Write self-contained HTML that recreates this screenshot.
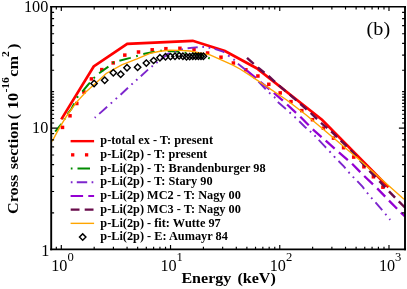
<!DOCTYPE html>
<html><head><meta charset="utf-8"><style>
html,body{margin:0;padding:0;background:#fff;}
svg{display:block;will-change:transform;font-family:"Liberation Serif",serif;}
</style></head><body>
<svg width="407" height="289" viewBox="0 0 407 289">
<defs><filter id="b" x="0" y="0" width="407" height="289" filterUnits="userSpaceOnUse"><feGaussianBlur stdDeviation="0.35"/></filter></defs>
<rect width="407" height="289" fill="#fff"/>
<g filter="url(#b)">
<rect width="407" height="289" fill="#fff"/>
<clipPath id="c"><rect x="51.2" y="6.8" width="353.8" height="242.5"/></clipPath>
<g clip-path="url(#c)" fill="none" stroke-linejoin="miter">
<path d="M61.3 119.4 L93.7 66.5 L127.2 43.9 L192.8 40.8 L225.0 51.0 L256.6 68.2 L322.0 119.8 L388.5 187.2" stroke="#ff0000" stroke-width="2.7"/>
<rect x="60.75" y="125.65" width="3.5" height="3.5" fill="#ff0000"/>
<rect x="68.25" y="114.05" width="3.5" height="3.5" fill="#ff0000"/>
<rect x="75.05" y="101.75" width="3.5" height="3.5" fill="#ff0000"/>
<rect x="82.15" y="90.25" width="3.5" height="3.5" fill="#ff0000"/>
<rect x="89.65" y="77.15" width="3.5" height="3.5" fill="#ff0000"/>
<rect x="100.05" y="67.85" width="3.5" height="3.5" fill="#ff0000"/>
<rect x="111.45" y="61.15" width="3.5" height="3.5" fill="#ff0000"/>
<rect x="123.05" y="53.35" width="3.5" height="3.5" fill="#ff0000"/>
<rect x="136.75" y="50.25" width="3.5" height="3.5" fill="#ff0000"/>
<rect x="150.45" y="48.05" width="3.5" height="3.5" fill="#ff0000"/>
<rect x="164.15" y="46.95" width="3.5" height="3.5" fill="#ff0000"/>
<rect x="178.15" y="46.55" width="3.5" height="3.5" fill="#ff0000"/>
<rect x="192.25" y="47.75" width="3.5" height="3.5" fill="#ff0000"/>
<rect x="205.85" y="51.25" width="3.5" height="3.5" fill="#ff0000"/>
<rect x="219.25" y="55.45" width="3.5" height="3.5" fill="#ff0000"/>
<rect x="231.65" y="61.25" width="3.5" height="3.5" fill="#ff0000"/>
<rect x="244.15" y="68.05" width="3.5" height="3.5" fill="#ff0000"/>
<rect x="256.15" y="74.25" width="3.5" height="3.5" fill="#ff0000"/>
<rect x="267.05" y="82.55" width="3.5" height="3.5" fill="#ff0000"/>
<rect x="278.45" y="91.15" width="3.5" height="3.5" fill="#ff0000"/>
<rect x="289.25" y="99.85" width="3.5" height="3.5" fill="#ff0000"/>
<rect x="300.05" y="108.85" width="3.5" height="3.5" fill="#ff0000"/>
<rect x="310.75" y="117.95" width="3.5" height="3.5" fill="#ff0000"/>
<rect x="321.65" y="126.45" width="3.5" height="3.5" fill="#ff0000"/>
<rect x="331.75" y="136.35" width="3.5" height="3.5" fill="#ff0000"/>
<rect x="341.85" y="145.95" width="3.5" height="3.5" fill="#ff0000"/>
<rect x="351.95" y="155.35" width="3.5" height="3.5" fill="#ff0000"/>
<rect x="362.15" y="165.05" width="3.5" height="3.5" fill="#ff0000"/>
<rect x="371.65" y="175.05" width="3.5" height="3.5" fill="#ff0000"/>
<rect x="381.15" y="185.45" width="3.5" height="3.5" fill="#ff0000"/>
<path d="M51.4 136.4 L55.2 131.7" stroke="#008b00" stroke-width="2" stroke-dasharray="11.50 5.50 1.70 5.60" stroke-dashoffset="18.26"/>
<path d="M55.2 131.7 L61.3 124.0 L66.6 115.8 L67.5 114.2" stroke="#008b00" stroke-width="2" stroke-dasharray="10.14 4.85 1.50 4.94" stroke-dashoffset="0.00"/>
<path d="M67.5 114.2 L71.5 108.8 L78.1 95.9 L82.3 91.7" stroke="#008b00" stroke-width="2" stroke-dasharray="12.85 6.15 1.90 6.26" stroke-dashoffset="0.00"/>
<path d="M82.3 91.7 L87.0 86.0 L94.5 77.4 L99.1 73.2" stroke="#008b00" stroke-width="2" stroke-dasharray="11.84 5.66 1.75 5.77" stroke-dashoffset="0.00"/>
<path d="M99.1 73.2 L108.5 66.5 L113.2 62.6 L119.4 60.7" stroke="#008b00" stroke-width="2" stroke-dasharray="11.42 5.46 1.69 5.56" stroke-dashoffset="0.00"/>
<path d="M119.4 60.7 L130.3 57.9 L137.6 55.8 L143.3 54.1" stroke="#008b00" stroke-width="2" stroke-dasharray="11.74 5.61 1.73 5.71" stroke-dashoffset="0.00"/>
<path d="M143.3 54.1 L154.7 51.8 L160.3 50.8 L167.7 50.9" stroke="#008b00" stroke-width="2" stroke-dasharray="11.70 5.59 1.73 5.70" stroke-dashoffset="0.00"/>
<path d="M167.7 50.9 L176.5 51.4 L184.7 52.6 L195.7 53.8 L201.9 55.4 L208.0 57.7 L214.1 60.4" stroke="#008b00" stroke-width="2" stroke-dasharray="11.50 5.50 1.70 5.60" stroke-dashoffset="0.00"/>
<path d="M94.7 117.8 L99.2 113.9" stroke="#7d26cd" stroke-width="1.9" stroke-dasharray="10.40 4.70 1.80 4.70 1.80 4.60" stroke-dashoffset="22.05"/>
<path d="M99.2 113.9 L107.5 106.5 L115.4 99.3 L120.6 94.8" stroke="#7d26cd" stroke-width="1.9" stroke-dasharray="10.65 4.82 1.84 4.82 1.84 4.71" stroke-dashoffset="0.00"/>
<path d="M120.6 94.8 L128.4 87.4 L136.3 80.2 L140.8 76.2" stroke="#7d26cd" stroke-width="1.9" stroke-dasharray="10.20 4.61 1.77 4.61 1.77 4.51" stroke-dashoffset="0.00"/>
<path d="M140.8 76.2 L148.7 69.0 L152.2 66.3 L161.0 59.3" stroke="#7d26cd" stroke-width="1.9" stroke-dasharray="9.79 4.42 1.69 4.42 1.69 4.33" stroke-dashoffset="0.00"/>
<path d="M161.0 59.3 L164.7 56.4 L167.7 53.9 L176.8 50.6 L187.6 48.3" stroke="#7d26cd" stroke-width="1.9" stroke-dasharray="10.89 4.92 1.89 4.92 1.89 4.82" stroke-dashoffset="0.00"/>
<path d="M187.6 48.3 L195.7 47.4 L201.9 46.8 L208.5 47.6 L214.7 48.9" stroke="#7d26cd" stroke-width="1.9" stroke-dasharray="10.16 4.59 1.76 4.59 1.76 4.50" stroke-dashoffset="0.00"/>
<path d="M214.7 48.9 L223.0 51.6 L228.2 55.4 L233.8 59.5 L237.9 63.7" stroke="#7d26cd" stroke-width="1.9" stroke-dasharray="10.39 4.70 1.80 4.70 1.80 4.60" stroke-dashoffset="0.00"/>
<path d="M237.9 63.7 L244.9 69.2 L258.5 81.7" stroke="#7d26cd" stroke-width="1.9" stroke-dasharray="10.17 4.59 1.76 4.59 1.76 4.50" stroke-dashoffset="0.00"/>
<path d="M258.5 81.7 L268.8 92.4 L274.3 97.0 L277.8 102.0" stroke="#7d26cd" stroke-width="1.9" stroke-dasharray="10.45 4.72 1.81 4.72 1.81 4.62" stroke-dashoffset="0.00"/>
<path d="M277.8 102.0 L284.8 108.0 L289.5 112.3 L294.6 116.9 L299.2 121.3" stroke="#7d26cd" stroke-width="1.9" stroke-dasharray="10.71 4.84 1.85 4.84 1.85 4.74" stroke-dashoffset="0.00"/>
<path d="M299.2 121.3 L304.7 126.7 L309.7 130.9 L314.8 135.7 L318.7 139.9" stroke="#7d26cd" stroke-width="1.9" stroke-dasharray="10.02 4.53 1.73 4.53 1.73 4.43" stroke-dashoffset="0.00"/>
<path d="M318.7 139.9 L324.6 146.2 L329.3 151.1 L334.0 156.3 L338.5 161.0" stroke="#7d26cd" stroke-width="1.9" stroke-dasharray="10.75 4.86 1.86 4.86 1.86 4.75" stroke-dashoffset="0.00"/>
<path d="M338.5 161.0 L343.8 166.4 L348.1 171.6 L353.0 176.8 L357.3 181.1" stroke="#7d26cd" stroke-width="1.9" stroke-dasharray="10.23 4.62 1.77 4.62 1.77 4.52" stroke-dashoffset="0.00"/>
<path d="M357.3 181.1 L362.5 186.7 L366.8 192.4 L371.1 197.5 L375.5 202.3" stroke="#7d26cd" stroke-width="1.9" stroke-dasharray="10.39 4.69 1.80 4.69 1.80 4.59" stroke-dashoffset="0.00"/>
<path d="M375.5 202.3 L380.7 208.4 L385.0 213.5 L389.2 218.6 L390.2 219.8" stroke="#7d26cd" stroke-width="1.9" stroke-dasharray="10.40 4.70 1.80 4.70 1.80 4.60" stroke-dashoffset="0.00"/>
<path d="M246.9 70.6 L260.3 81.8" stroke="#9400d3" stroke-width="2.3" stroke-dasharray="11.84 5.62" stroke-dashoffset="0.00"/>
<path d="M260.3 81.8 L273.9 92.8" stroke="#9400d3" stroke-width="2.3" stroke-dasharray="11.86 5.63" stroke-dashoffset="0.00"/>
<path d="M273.9 92.8 L287.1 104.5" stroke="#9400d3" stroke-width="2.3" stroke-dasharray="11.96 5.68" stroke-dashoffset="0.00"/>
<path d="M287.1 104.5 L300.3 116.8" stroke="#9400d3" stroke-width="2.3" stroke-dasharray="12.24 5.81" stroke-dashoffset="0.00"/>
<path d="M300.3 116.8 L312.8 129.3" stroke="#9400d3" stroke-width="2.3" stroke-dasharray="11.99 5.69" stroke-dashoffset="0.00"/>
<path d="M312.8 129.3 L325.7 140.7" stroke="#9400d3" stroke-width="2.3" stroke-dasharray="11.67 5.54" stroke-dashoffset="0.00"/>
<path d="M325.7 140.7 L338.9 152.4" stroke="#9400d3" stroke-width="2.3" stroke-dasharray="11.96 5.68" stroke-dashoffset="0.00"/>
<path d="M338.9 152.4 L352.1 163.8" stroke="#9400d3" stroke-width="2.3" stroke-dasharray="11.83 5.61" stroke-dashoffset="0.00"/>
<path d="M352.1 163.8 L364.2 176.0" stroke="#9400d3" stroke-width="2.3" stroke-dasharray="11.65 5.53" stroke-dashoffset="0.00"/>
<path d="M364.2 176.0 L377.2 188.4" stroke="#9400d3" stroke-width="2.3" stroke-dasharray="12.18 5.78" stroke-dashoffset="0.00"/>
<path d="M377.2 188.4 L389.0 200.6" stroke="#9400d3" stroke-width="2.3" stroke-dasharray="11.51 5.46" stroke-dashoffset="0.00"/>
<path d="M389.0 200.6 L400.9 212.7" stroke="#9400d3" stroke-width="2.3" stroke-dasharray="11.51 5.46" stroke-dashoffset="0.00"/>
<path d="M400.9 212.7 L405.0 216.5" stroke="#9400d3" stroke-width="2.3" stroke-dasharray="11.80 5.60" stroke-dashoffset="0.00"/>
<path d="M247.0 57.9 L257.9 67.5" stroke="#67074a" stroke-width="2.4" stroke-dasharray="8.99 5.54" stroke-dashoffset="0.00"/>
<path d="M257.9 67.5 L268.5 76.0" stroke="#67074a" stroke-width="2.4" stroke-dasharray="8.41 5.18" stroke-dashoffset="0.00"/>
<path d="M268.5 76.0 L278.9 85.4" stroke="#67074a" stroke-width="2.4" stroke-dasharray="8.67 5.35" stroke-dashoffset="0.00"/>
<path d="M278.9 85.4 L289.8 94.7" stroke="#67074a" stroke-width="2.4" stroke-dasharray="8.86 5.46" stroke-dashoffset="0.00"/>
<path d="M289.8 94.7 L300.3 103.8" stroke="#67074a" stroke-width="2.4" stroke-dasharray="8.60 5.30" stroke-dashoffset="0.00"/>
<path d="M300.3 103.8 L310.7 113.0" stroke="#67074a" stroke-width="2.4" stroke-dasharray="8.59 5.29" stroke-dashoffset="0.00"/>
<path d="M310.7 113.0 L321.0 122.8" stroke="#67074a" stroke-width="2.4" stroke-dasharray="8.80 5.42" stroke-dashoffset="0.00"/>
<path d="M321.0 122.8 L331.2 131.4" stroke="#67074a" stroke-width="2.4" stroke-dasharray="8.25 5.09" stroke-dashoffset="0.00"/>
<path d="M331.2 131.4 L340.8 140.7" stroke="#67074a" stroke-width="2.4" stroke-dasharray="8.27 5.10" stroke-dashoffset="0.00"/>
<path d="M340.8 140.7 L350.6 150.0" stroke="#67074a" stroke-width="2.4" stroke-dasharray="8.36 5.15" stroke-dashoffset="0.00"/>
<path d="M350.6 150.0 L360.0 160.4" stroke="#67074a" stroke-width="2.4" stroke-dasharray="8.67 5.35" stroke-dashoffset="0.00"/>
<path d="M360.0 160.4 L369.4 170.8" stroke="#67074a" stroke-width="2.4" stroke-dasharray="8.67 5.35" stroke-dashoffset="0.00"/>
<path d="M369.4 170.8 L379.4 181.1" stroke="#67074a" stroke-width="2.4" stroke-dasharray="8.88 5.47" stroke-dashoffset="0.00"/>
<path d="M379.4 181.1 L389.0 191.3" stroke="#67074a" stroke-width="2.4" stroke-dasharray="8.67 5.34" stroke-dashoffset="0.00"/>
<path d="M389.0 191.3 L398.8 201.4" stroke="#67074a" stroke-width="2.4" stroke-dasharray="8.71 5.37" stroke-dashoffset="0.00"/>
<path d="M398.8 201.4 L405.0 207.6" stroke="#67074a" stroke-width="2.4" stroke-dasharray="8.60 5.30" stroke-dashoffset="0.00"/>
<path d="M51.0 142.0 L52.8 140.0 L59.4 127.9 L67.0 115.5 L76.6 102.1 L86.1 91.7 L93.7 85.0 L106.2 73.5 L121.7 64.9 L137.0 58.9 L150.0 53.4 L159.9 51.2 L169.2 50.2 L180.0 50.4 L190.0 51.0 L210.0 54.9 L232.4 64.9 L240.0 69.0 L250.0 75.3 L286.7 100.0 L306.2 115.0 L336.0 140.0 L347.8 150.0 L360.0 160.2 L404.0 199.2" stroke="#ffa500" stroke-width="1.4"/>
<path d="M90.9 83.5L94.1 80.3L97.2 83.5L94.1 86.7Z" stroke="#000" stroke-width="1.45" fill="none"/>
<path d="M101.5 80.3L104.7 77.1L107.9 80.3L104.7 83.5Z" stroke="#000" stroke-width="1.45" fill="none"/>
<path d="M110.1 72.7L113.3 69.5L116.5 72.7L113.3 75.9Z" stroke="#000" stroke-width="1.45" fill="none"/>
<path d="M117.5 74.3L120.7 71.1L123.9 74.3L120.7 77.5Z" stroke="#000" stroke-width="1.45" fill="none"/>
<path d="M123.8 67.7L127.0 64.5L130.2 67.7L127.0 70.9Z" stroke="#000" stroke-width="1.45" fill="none"/>
<path d="M134.4 67.2L137.6 64.0L140.8 67.2L137.6 70.4Z" stroke="#000" stroke-width="1.45" fill="none"/>
<path d="M143.2 63.0L146.3 59.9L149.5 63.0L146.3 66.2Z" stroke="#000" stroke-width="1.45" fill="none"/>
<path d="M150.4 60.5L153.6 57.4L156.8 60.5L153.6 63.6Z" stroke="#000" stroke-width="1.45" fill="none"/>
<path d="M156.8 57.8L159.9 54.6L163.1 57.8L159.9 60.9Z" stroke="#000" stroke-width="1.45" fill="none"/>
<path d="M162.3 56.8L165.5 53.6L168.7 56.8L165.5 59.9Z" stroke="#000" stroke-width="1.45" fill="none"/>
<path d="M167.3 56.6L170.5 53.5L173.7 56.6L170.5 59.8Z" stroke="#000" stroke-width="1.45" fill="none"/>
<path d="M171.8 56.2L175.0 53.1L178.2 56.2L175.0 59.4Z" stroke="#000" stroke-width="1.45" fill="none"/>
<path d="M176.0 55.8L179.2 52.6L182.3 55.8L179.2 58.9Z" stroke="#000" stroke-width="1.45" fill="none"/>
<path d="M179.8 56.3L182.9 53.1L186.1 56.3L182.9 59.4Z" stroke="#000" stroke-width="1.45" fill="none"/>
<path d="M183.3 56.7L186.5 53.6L189.7 56.7L186.5 59.9Z" stroke="#000" stroke-width="1.45" fill="none"/>
<path d="M186.5 56.6L189.7 53.5L192.8 56.6L189.7 59.8Z" stroke="#000" stroke-width="1.45" fill="none"/>
<path d="M189.7 56.3L192.8 53.1L196.0 56.3L192.8 59.4Z" stroke="#000" stroke-width="1.45" fill="none"/>
<path d="M192.5 56.3L195.7 53.1L198.8 56.3L195.7 59.4Z" stroke="#000" stroke-width="1.45" fill="none"/>
<path d="M195.2 56.2L198.4 53.1L201.6 56.2L198.4 59.4Z" stroke="#000" stroke-width="1.45" fill="none"/>
<path d="M197.8 56.2L201.0 53.1L204.2 56.2L201.0 59.4Z" stroke="#000" stroke-width="1.45" fill="none"/>
<path d="M200.2 56.2L203.4 53.1L206.6 56.2L203.4 59.4Z" stroke="#000" stroke-width="1.45" fill="none"/>
</g>
<path d="M70.6 141.15H94.1" stroke="#ff0000" stroke-width="2.4"/>
<rect x="71.05" y="153.2" width="3.3" height="3.3" fill="#ff0000"/>
<rect x="84.94999999999999" y="153.2" width="3.3" height="3.3" fill="#ff0000"/>
<path d="M70.8 168.55h1.7M77.5 168.55H90" stroke="#008b00" stroke-width="2"/>
<path d="M70.8 182.25h1.7M76.8 182.25H87.2M91.6 182.25h1.7" stroke="#7d26cd" stroke-width="2"/>
<path d="M70.6 195.95H83.1M88.3 195.95H94.1" stroke="#9400d3" stroke-width="2.1"/>
<path d="M70.7 209.65H79.5M84.7 209.65H93.5" stroke="#67074a" stroke-width="2.1"/>
<path d="M70.6 223.35H94.1" stroke="#ffa500" stroke-width="1.4"/>
<path d="M79.5 237.1L82.7 233.9L85.9 237.1L82.7 240.2Z" stroke="#000" stroke-width="1.45" fill="none"/>
<text transform="translate(100.3 144.3) scale(1.034 1)" font-weight="bold" font-size="11.9">p-total ex - T: present</text>
<text transform="translate(100.3 158.0) scale(1.034 1)" font-weight="bold" font-size="11.9">p-Li(2p) - T: present</text>
<text transform="translate(100.3 171.8) scale(1.034 1)" font-weight="bold" font-size="11.9">p-Li(2p) - T: Brandenburger 98</text>
<text transform="translate(100.3 185.4) scale(1.034 1)" font-weight="bold" font-size="11.9">p-Li(2p) - T: Stary 90</text>
<text transform="translate(100.3 199.1) scale(1.034 1)" font-weight="bold" font-size="11.9">p-Li(2p) MC2 - T: Nagy 00</text>
<text transform="translate(100.3 212.8) scale(1.034 1)" font-weight="bold" font-size="11.9">p-Li(2p) MC3 - T: Nagy 00</text>
<text transform="translate(100.3 226.5) scale(1.034 1)" font-weight="bold" font-size="11.9">p-Li(2p) - fit: Wutte 97</text>
<text transform="translate(100.3 240.2) scale(1.034 1)" font-weight="bold" font-size="11.9">p-Li(2p) - E: Aumayr 84</text>
<path d="M56.30 249.3v-2.6M56.30 6.8v2.6M61.30 249.3v-4.3M61.30 6.8v4.3M94.18 249.3v-2.6M94.18 6.8v2.6M113.42 249.3v-2.6M113.42 6.8v2.6M127.06 249.3v-2.6M127.06 6.8v2.6M137.65 249.3v-2.6M137.65 6.8v2.6M146.30 249.3v-2.6M146.30 6.8v2.6M153.61 249.3v-2.6M153.61 6.8v2.6M159.94 249.3v-2.6M159.94 6.8v2.6M165.53 249.3v-2.6M165.53 6.8v2.6M170.53 249.3v-4.3M170.53 6.8v4.3M203.41 249.3v-2.6M203.41 6.8v2.6M222.65 249.3v-2.6M222.65 6.8v2.6M236.29 249.3v-2.6M236.29 6.8v2.6M246.88 249.3v-2.6M246.88 6.8v2.6M255.53 249.3v-2.6M255.53 6.8v2.6M262.84 249.3v-2.6M262.84 6.8v2.6M269.17 249.3v-2.6M269.17 6.8v2.6M274.76 249.3v-2.6M274.76 6.8v2.6M279.76 249.3v-4.3M279.76 6.8v4.3M312.64 249.3v-2.6M312.64 6.8v2.6M331.88 249.3v-2.6M331.88 6.8v2.6M345.52 249.3v-2.6M345.52 6.8v2.6M356.11 249.3v-2.6M356.11 6.8v2.6M364.76 249.3v-2.6M364.76 6.8v2.6M372.07 249.3v-2.6M372.07 6.8v2.6M378.40 249.3v-2.6M378.40 6.8v2.6M383.99 249.3v-2.6M383.99 6.8v2.6M388.99 249.3v-4.3M388.99 6.8v4.3M51.2 212.80h2.9M405.0 212.80h-2.9M51.2 191.45h2.9M405.0 191.45h-2.9M51.2 176.30h2.9M405.0 176.30h-2.9M51.2 164.55h2.9M405.0 164.55h-2.9M51.2 154.95h2.9M405.0 154.95h-2.9M51.2 146.83h2.9M405.0 146.83h-2.9M51.2 139.80h2.9M405.0 139.80h-2.9M51.2 133.60h2.9M405.0 133.60h-2.9M51.2 123.03h2.9M405.0 123.03h-2.9M51.2 118.45h2.9M405.0 118.45h-2.9M51.2 114.23h2.9M405.0 114.23h-2.9M51.2 110.33h2.9M405.0 110.33h-2.9M51.2 106.70h2.9M405.0 106.70h-2.9M51.2 103.30h2.9M405.0 103.30h-2.9M51.2 100.11h2.9M405.0 100.11h-2.9M51.2 97.10h2.9M405.0 97.10h-2.9M51.2 94.25h2.9M405.0 94.25h-2.9M51.2 91.55h2.9M405.0 91.55h-2.9M51.2 70.20h2.9M405.0 70.20h-2.9M51.2 55.05h2.9M405.0 55.05h-2.9M51.2 43.30h2.9M405.0 43.30h-2.9M51.2 33.70h2.9M405.0 33.70h-2.9M51.2 25.58h2.9M405.0 25.58h-2.9M51.2 18.55h2.9M405.0 18.55h-2.9M51.2 12.35h2.9M405.0 12.35h-2.9M51.2 128.05h6.1M405.0 128.05h-6.1" stroke="#000" stroke-width="1.15" fill="none"/>
<path d="M51.2 6.05V250.15M405.0 6.05V250.15" stroke="#000" stroke-width="1.9" fill="none"/>
<path d="M50.2 6.8H406.0" stroke="#000" stroke-width="1.5" fill="none"/>
<path d="M50.2 249.3H406.0" stroke="#000" stroke-width="1.7" fill="none"/>
<text transform="translate(48.3 12.1) scale(1.034 1)" text-anchor="end" font-size="15.7">100</text>
<text transform="translate(48.3 133.4) scale(1.034 1)" text-anchor="end" font-size="15.7">10</text>
<text transform="translate(49.3 255.7) scale(1.034 1)" text-anchor="end" font-size="15.7">1</text>
<text transform="translate(51.2 270.5) scale(1.034 1)" font-size="15.7">10<tspan dy="-9.4" font-size="12.2">0</tspan></text>
<text transform="translate(160.4 270.5) scale(1.034 1)" font-size="15.7">10<tspan dy="-9.4" font-size="12.2">1</tspan></text>
<text transform="translate(269.7 270.5) scale(1.034 1)" font-size="15.7">10<tspan dy="-9.4" font-size="12.2">2</tspan></text>
<text transform="translate(378.9 270.5) scale(1.034 1)" font-size="15.7">10<tspan dy="-9.4" font-size="12.2">3</tspan></text>
<text transform="translate(181.4 283.2) scale(1.03 1)" font-weight="bold" font-size="15.6" word-spacing="2">Energy (keV)</text>
<text transform="translate(366.6 34.7) scale(1.02 1)" font-size="19.8">(b)</text>
<g transform="translate(18.2 0) rotate(-90)" font-weight="bold">
<text transform="translate(-213.9 0) scale(1.034 1)" font-size="15.6">Cross</text>
<text transform="translate(-169.3 0) scale(1.034 1)" font-size="15.6">section</text>
<text transform="translate(-119.3 0) scale(1.034 1)" font-size="15.6">(</text>
<text transform="translate(-109.0 0) scale(1.034 1)" font-size="15.6">10</text>
<text transform="translate(-92.6 -9.4) scale(1.034 1)" font-size="11.2">-16</text>
<text transform="translate(-76.7 0) scale(1.034 1)" font-size="15.6">cm</text>
<text transform="translate(-57.1 -9.4) scale(1.034 1)" font-size="11.2">2</text>
<text transform="translate(-48.9 0) scale(1.034 1)" font-size="15.6">)</text>
</g>
</g>
</svg></body></html>
